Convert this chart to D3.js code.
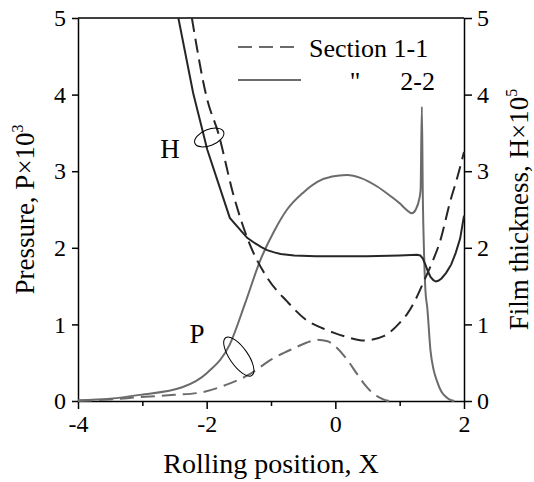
<!DOCTYPE html>
<html>
<head>
<meta charset="utf-8">
<script src="https://cdn.jsdelivr.net/npm/d3@7"></script>
<style>
  body { margin: 0; background: #fff; }
</style>
</head>
<body>
<svg id="chart"></svg>
<script>
// rolling position X
var xTicks = [-4, -2, 0, 2];
var xMinor = [-3, -1, 1];
var yTicks = [0, 1, 2, 3, 4, 5];

// film thickness H x 10^5, section 1-1 (dashed)
var h11X = [-2.23, -1.99, -1.82, -1.59, -1.37, -1.06, -0.75, -0.44, -0.2, -0.02, 0.2, 0.45, 0.76, 1.0, 1.12, 1.25, 1.38, 1.5, 1.63, 1.79, 1.9, 2.0];
var h11Y = [5.0, 3.93, 3.50, 2.71, 2.13, 1.61, 1.30, 1.05, 0.95, 0.89, 0.83, 0.79, 0.85, 1.02, 1.14, 1.33, 1.57, 1.80, 2.09, 2.62, 2.93, 3.25];

// film thickness H x 10^5, section 2-2 (solid)
var h22X = [-2.44, -2.21, -1.99, -1.64, -1.37, -1.25, -1.15, -1.06, -0.95, -0.85, -0.64, -0.3, 0.0, 0.49, 1.0, 1.27, 1.32, 1.36, 1.40, 1.44, 1.48, 1.52, 1.56, 1.60, 1.65, 1.72, 1.8, 1.87, 1.94, 2.0];
var h22Y = [5.0, 4.02, 3.28, 2.39, 2.13, 2.06, 2.01, 1.97, 1.94, 1.92, 1.90, 1.89, 1.89, 1.89, 1.90, 1.91, 1.90, 1.86, 1.78, 1.69, 1.62, 1.58, 1.56, 1.57, 1.60, 1.67, 1.78, 1.93, 2.12, 2.42];

// pressure P x 10^3, section 1-1 (dashed)
var p11X = [-4.0, -3.5, -3.04, -2.5, -2.1, -1.7, -1.33, -1.0, -0.64, -0.45, -0.28, -0.12, 0.03, 0.2, 0.34, 0.48, 0.6, 0.7, 0.78, 0.85];
var p11Y = [0.0, 0.02, 0.05, 0.08, 0.11, 0.21, 0.35, 0.54, 0.69, 0.76, 0.80, 0.78, 0.69, 0.52, 0.35, 0.19, 0.09, 0.04, 0.01, 0.0];

// pressure P x 10^3, section 2-2 (solid)
var p22X = [-4.0, -3.5, -3.04, -2.38, -1.99, -1.64, -1.4, -1.17, -0.95, -0.75, -0.5, -0.28, -0.05, 0.18, 0.4, 0.65, 0.85, 1.0, 1.1, 1.19, 1.25, 1.3, 1.325, 1.345, 1.36, 1.38, 1.40, 1.43, 1.48, 1.53, 1.58, 1.65, 1.74, 1.8, 1.85];
var p22Y = [0.01, 0.03, 0.08, 0.18, 0.37, 0.74, 1.28, 1.83, 2.22, 2.50, 2.72, 2.86, 2.93, 2.95, 2.91, 2.80, 2.68, 2.58, 2.50, 2.45, 2.50, 2.62, 2.75, 3.84, 2.66, 1.90, 1.45, 1.21, 0.65, 0.40, 0.26, 0.12, 0.04, 0.01, 0.0];

var W = 534, H = 482;
var margin = { left: 78, right: 70, top: 18, bottom: 81 };
var pw = W - margin.left - margin.right;
var ph = H - margin.top - margin.bottom;

var dark = "#262626", gray = "#6b6b6b";
var fontStack = '"Liberation Serif", "DejaVu Serif", "Noto Serif", serif';

var svg = d3.select("#chart").attr("width", W).attr("height", H);
var g = svg.append("g").attr("transform", "translate(" + margin.left + "," + margin.top + ")");

var x = d3.scaleLinear().domain([-4, 2]).range([0, pw]);
var yP = d3.scaleLinear().domain([0, 5]).range([ph, 0]);
var yH = d3.scaleLinear().domain([0, 5]).range([ph, 0]);

function zip(xs, ys) {
	return xs.map(function(v, i) { return [v, ys[i]]; });
}

function styleAxis(sel) {
	sel.attr("font-family", null);
	sel.selectAll("path, line").attr("stroke", "#000").attr("stroke-width", 1.5);
	sel.selectAll("text").attr("font-size", "24px").attr("fill", "#000");
}

// frame top
g.append("line")
	.attr("x1", 0).attr("x2", pw).attr("y1", 0).attr("y2", 0)
	.attr("stroke", "#000").attr("stroke-width", 1.5);

// bottom axis, minor first
g.append("g")
	.attr("transform", "translate(0," + ph + ")")
	.call(d3.axisBottom(x).tickValues(xMinor).tickSize(5).tickFormat(""))
	.call(styleAxis)
	.select(".domain").remove();

g.append("g")
	.attr("transform", "translate(0," + ph + ")")
	.call(d3.axisBottom(x).tickValues(xTicks).tickSize(8).tickSizeOuter(0).tickPadding(6)
		.tickFormat(function(d) { return String(d); }))
	.call(styleAxis);

g.append("g")
	.call(d3.axisLeft(yP).tickValues(yTicks).tickSize(6).tickSizeOuter(0).tickPadding(6)
		.tickFormat(function(d) { return String(d); }))
	.call(styleAxis);

g.append("g")
	.attr("transform", "translate(" + pw + ",0)")
	.call(d3.axisRight(yH).tickValues(yTicks).tickSize(8).tickSizeOuter(0).tickPadding(5)
		.tickFormat(function(d) { return String(d); }))
	.call(styleAxis);

// curves
var lineP = d3.line()
	.x(function(d) { return x(d[0]); })
	.y(function(d) { return yP(d[1]); })
	.curve(d3.curveMonotoneX);

var lineH = d3.line()
	.x(function(d) { return x(d[0]); })
	.y(function(d) { return yH(d[1]); })
	.curve(d3.curveMonotoneX);

var plot = g.append("g");

plot.append("path").datum(zip(p11X, p11Y))
	.attr("d", lineP).attr("fill", "none")
	.attr("stroke", gray).attr("stroke-width", 2).attr("stroke-dasharray", "14,7");

plot.append("path").datum(zip(p22X, p22Y))
	.attr("d", lineP).attr("fill", "none")
	.attr("stroke", gray).attr("stroke-width", 2);

plot.append("path").datum(zip(h11X, h11Y))
	.attr("d", lineH).attr("fill", "none")
	.attr("stroke", dark).attr("stroke-width", 2).attr("stroke-dasharray", "14,7");

plot.append("path").datum(zip(h22X, h22Y))
	.attr("d", lineH.curve(d3.curveLinear)).attr("fill", "none")
	.attr("stroke", dark).attr("stroke-width", 2);

// curve labels with ellipses
function appendLabel(txt, px, py) {
	g.append("text")
		.attr("x", px).attr("y", py)
		.attr("text-anchor", "middle")
		.attr("font-size", "27px")
		.text(txt);
}
appendLabel("H", x(-2.57), yH(3.29) + 9);
appendLabel("P", x(-2.15), yP(0.87) + 9);

g.append("ellipse")
	.attr("transform", "translate(" + x(-1.96) + "," + yH(3.44) + ") rotate(-22)")
	.attr("rx", 15.5).attr("ry", 8)
	.attr("fill", "none").attr("stroke", "#000").attr("stroke-width", 1);

g.append("ellipse")
	.attr("transform", "translate(" + x(-1.5) + "," + yP(0.58) + ") rotate(55)")
	.attr("rx", 23).attr("ry", 9)
	.attr("fill", "none").attr("stroke", "#000").attr("stroke-width", 1);

// legend
var leg = svg.append("g");
leg.append("line").attr("x1", 238).attr("x2", 301).attr("y1", 47).attr("y2", 47)
	.attr("stroke", gray).attr("stroke-width", 2).attr("stroke-dasharray", "14,7");
leg.append("line").attr("x1", 238).attr("x2", 301).attr("y1", 80).attr("y2", 80)
	.attr("stroke", gray).attr("stroke-width", 2);
leg.append("text").attr("x", 309).attr("y", 57).attr("font-size", "26px").text("Section 1-1");
leg.append("text").attr("x", 355).attr("y", 90).attr("text-anchor", "middle").attr("font-size", "26px").text("\"");
leg.append("text").attr("x", 435).attr("y", 90).attr("text-anchor", "end").attr("font-size", "26px").text("2-2");

// axis titles
svg.append("text")
	.attr("x", margin.left + pw / 2).attr("y", 473)
	.attr("text-anchor", "middle").attr("font-size", "28px")
	.text("Rolling position, X");

var tl = svg.append("text")
	.attr("transform", "translate(34," + (margin.top + ph / 2) + ") rotate(-90)")
	.attr("text-anchor", "middle").attr("font-size", "27px");
tl.append("tspan").text("Pressure, P\u00d710");
tl.append("tspan").attr("dy", -11).attr("font-size", "16px").text("3");

var tr = svg.append("text")
	.attr("transform", "translate(528," + (margin.top + ph / 2) + ") rotate(-90)")
	.attr("text-anchor", "middle").attr("font-size", "27px");
tr.append("tspan").text("Film thickness, H\u00d710");
tr.append("tspan").attr("dy", -11).attr("font-size", "16px").text("5");

// every text in the serif face
svg.selectAll("text").attr("font-family", fontStack).attr("fill", "#000");
</script>
</body>
</html>
